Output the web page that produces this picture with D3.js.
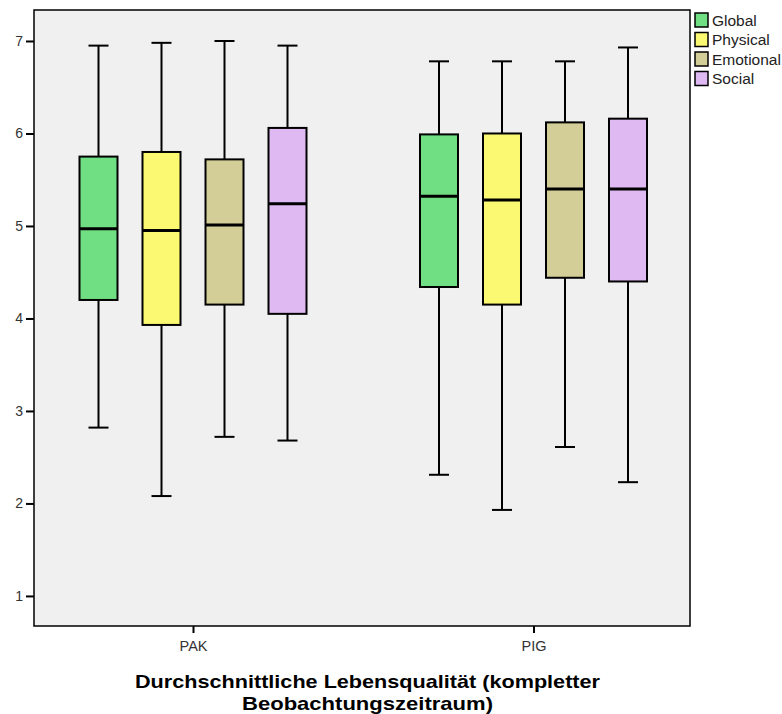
<!DOCTYPE html>
<html><head><meta charset="utf-8">
<script src="https://cdn.jsdelivr.net/npm/d3@7"></script>
<style>body{margin:0;background:#fff;} svg{display:block;font-family:"Liberation Sans",Arial,sans-serif;}</style>
</head><body>
<script>
const groups = ["PAK", "PIG"];
const seriesNames = ["Global", "Physical", "Emotional", "Social"];
const seriesColors = ["#70DE82", "#FBF871", "#D3CE97", "#DFB9F2"];
// [lower whisker, Q1, median, Q3, upper whisker] per group
const globalStats   = [[2.82, 4.20, 4.97, 5.75, 6.95], [2.31, 4.34, 5.32, 5.99, 6.78]];
const physicalStats = [[2.08, 3.93, 4.95, 5.80, 6.98], [1.93, 4.15, 5.28, 6.00, 6.78]];
const emotionalStats= [[2.72, 4.15, 5.01, 5.72, 7.00], [2.61, 4.44, 5.40, 6.12, 6.78]];
const socialStats   = [[2.68, 4.05, 5.24, 6.06, 6.95], [2.23, 4.40, 5.40, 6.16, 6.93]];
const yTicks = [1, 2, 3, 4, 5, 6, 7];
const titleLines = ["Durchschnittliche Lebensqualität (kompletter", "Beobachtungszeitraum)"];

const allStats = [globalStats, physicalStats, emotionalStats, socialStats];
const W = 782, H = 714;
const m = {left: 34, top: 10, right: 690, bottom: 626};

const svg = d3.select("body").append("svg").attr("width", W).attr("height", H);

const y = d3.scaleLinear().domain([0.675, 7.335]).range([m.bottom, m.top]);
const xg = d3.scalePoint().domain(groups).range([193, 533.5]);
const xs = d3.scalePoint().domain(seriesNames).range([-94.5, 94.5]);
const bw = 38;

svg.append("rect").attr("x", m.left).attr("y", m.top)
  .attr("width", m.right - m.left).attr("height", m.bottom - m.top)
  .attr("fill", "#F0F0F0");

groups.forEach((g, gi) => {
  seriesNames.forEach((s, si) => {
    const st = allStats[si][gi];
    const cx = xg(g) + xs(s);
    const bx = cx - bw / 2;
    const box = svg.append("g");
    box.append("line").attr("x1", cx).attr("x2", cx).attr("y1", y(st[0])).attr("y2", y(st[1]))
      .attr("stroke", "#000").attr("stroke-width", 2);
    box.append("line").attr("x1", cx).attr("x2", cx).attr("y1", y(st[3])).attr("y2", y(st[4]))
      .attr("stroke", "#000").attr("stroke-width", 2);
    [st[0], st[4]].forEach(v => {
      box.append("line").attr("x1", cx - 10).attr("x2", cx + 10).attr("y1", y(v)).attr("y2", y(v))
        .attr("stroke", "#000").attr("stroke-width", 2);
    });
    box.append("rect").attr("x", bx).attr("y", y(st[3])).attr("width", bw).attr("height", y(st[1]) - y(st[3]))
      .attr("fill", seriesColors[si]).attr("stroke", "#000").attr("stroke-width", 2);
    box.append("line").attr("x1", bx).attr("x2", bx + bw).attr("y1", y(st[2])).attr("y2", y(st[2]))
      .attr("stroke", "#000").attr("stroke-width", 3);
  });
});

// frame
svg.append("rect").attr("x", m.left).attr("y", m.top)
  .attr("width", m.right - m.left).attr("height", m.bottom - m.top)
  .attr("fill", "none").attr("stroke", "#000").attr("stroke-width", 1.5);

// y axis
const yAxis = svg.append("g").attr("transform", `translate(${m.left},0)`)
  .call(d3.axisLeft(y).tickValues(yTicks).tickSize(8).tickPadding(3).tickFormat(d3.format("d")));
yAxis.select(".domain").remove();
yAxis.selectAll(".tick line").attr("stroke", "#000").attr("stroke-width", 2);
yAxis.selectAll(".tick text").attr("fill", "#333").style("font-size", "14px").style("font-family", "Liberation Sans, Arial, sans-serif");

// x axis
const xAxis = svg.append("g").attr("transform", `translate(0,${m.bottom})`)
  .call(d3.axisBottom(xg).tickSize(7).tickPadding(8));
xAxis.select(".domain").remove();
xAxis.selectAll(".tick line").attr("stroke", "#000").attr("stroke-width", 2);
xAxis.selectAll(".tick text").attr("fill", "#333").style("font-size", "14.5px").style("font-family", "Liberation Sans, Arial, sans-serif");

// title (two lines, stretched horizontally like the reference)
const titleWidths = [465, 251];
titleLines.forEach((t, i) => {
  svg.append("text").attr("text-anchor", "middle")
    .attr("x", 367.5).attr("y", 688 + i * 22)
    .attr("textLength", titleWidths[i]).attr("lengthAdjust", "spacingAndGlyphs")
    .style("font-size", "19px").style("font-weight", "bold").attr("fill", "#000")
    .text(t);
});

// legend
const leg = svg.append("g");
seriesNames.forEach((s, i) => {
  const yy = 13 + i * 19.5;
  leg.append("rect").attr("x", 695).attr("y", yy).attr("width", 13).attr("height", 14)
    .attr("fill", seriesColors[i]).attr("stroke", "#000").attr("stroke-width", 1.5);
  leg.append("text").attr("x", 712).attr("y", yy + 12.5).text(s)
    .style("font-size", "15.5px").attr("fill", "#222");
});
</script>
</body></html>
